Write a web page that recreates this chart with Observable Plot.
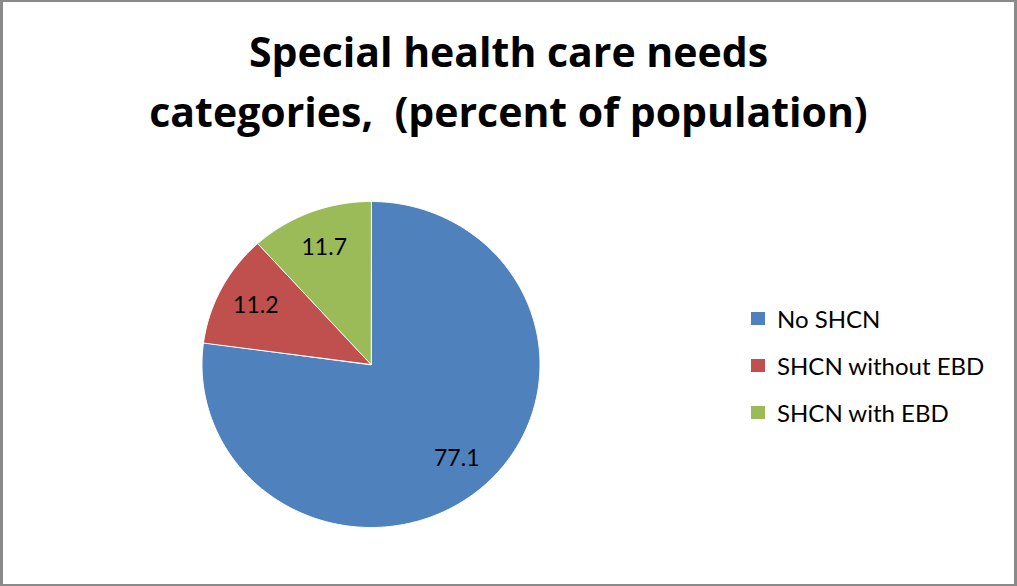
<!DOCTYPE html>
<html><head><meta charset="utf-8">
<script src="https://cdn.jsdelivr.net/npm/d3@7"></script>
<script src="https://cdn.jsdelivr.net/npm/@observablehq/plot@0.6"></script>
<style>
body{margin:0;background:#fff;}
#chart{position:relative;width:1017px;height:586px;overflow:hidden;font-family:Lato,"Open Sans",sans-serif;background:#fff;}
#frame{position:absolute;left:0;top:0;width:1017px;height:586px;box-sizing:border-box;border:2px solid #8a8a8a;border-left-width:3px;border-right-width:3px;pointer-events:none;}
#title{position:absolute;left:0;top:21px;width:1017px;text-align:center;font-family:"Open Sans",Lato,sans-serif;font-weight:700;font-size:41px;line-height:60px;color:#000;white-space:pre;}
#plot{position:absolute;left:0;top:0;}
.leg{position:absolute;left:751px;height:47px;display:flex;align-items:center;font-size:24px;color:#000;white-space:nowrap;}
.sw{width:14px;height:13px;margin-right:12px;flex:none;}
</style></head><body>
<div id="chart">
  <div id="plot"></div>
  <div id="title"></div>
  <div id="legend"></div>
  <div id="frame"></div>
</div>
<script>
const categories = ["No SHCN", "SHCN without EBD", "SHCN with EBD"];
const values = [77.1, 11.2, 11.7];
const valueLabels = ["77.1", "11.2", "11.7"];
const colors = ["#4F81BD", "#C0504D", "#9BBB59"];
const titleLines = ["Special health care needs", "categories,  (percent of population)"];

const data = categories.map((c, i) => ({name: c, value: values[i], label: valueLabels[i]}));
const arcs = d3.pie().sort(null).value(d => d.value)(data);

// polygon outline of each slice (unit circle, angle 0 at 12 o'clock, clockwise)
const pts = [];
for (const a of arcs) {
  pts.push({name: a.data.name, x: 0, y: 0});
  const n = Math.max(2, Math.ceil((a.endAngle - a.startAngle) / 0.01));
  for (let k = 0; k <= n; k++) {
    const t = a.startAngle + (a.endAngle - a.startAngle) * k / n;
    pts.push({name: a.data.name, x: Math.sin(t), y: Math.cos(t)});
  }
}
const labelPts = arcs.map(a => {
  const m = (a.startAngle + a.endAngle) / 2;
  return {label: a.data.label, x: 0.77 * Math.sin(m), y: 0.77 * Math.cos(m)};
});

const chart = Plot.plot({
  width: 1017,
  height: 586,
  marginLeft: 201.5,
  marginRight: 1017 - 539.5,
  marginTop: 201,
  marginBottom: 586 - 527,
  x: {domain: [-1, 1], axis: null},
  y: {domain: [-1, 1], axis: null},
  color: {domain: categories, range: colors},
  style: {background: "transparent", fontFamily: "Lato, 'Open Sans', sans-serif"},
  marks: [
    Plot.line(pts, {x: "x", y: "y", z: "name", fill: "name", stroke: "#fff", strokeWidth: 1, curve: "linear-closed"}),
    Plot.text(labelPts, {x: "x", y: "y", text: "label", fontSize: 23, fill: "#000"})
  ]
});
document.getElementById("plot").appendChild(chart);

const t = document.getElementById("title");
titleLines.forEach(l => { const d = document.createElement("div"); d.textContent = l; t.appendChild(d); });

const leg = document.getElementById("legend");
categories.forEach((c, i) => {
  const row = document.createElement("div");
  row.className = "leg";
  row.style.top = (294.5 + i * 47) + "px";
  const sw = document.createElement("span");
  sw.className = "sw";
  sw.style.background = colors[i];
  const tx = document.createElement("span");
  tx.textContent = c;
  row.appendChild(sw); row.appendChild(tx);
  leg.appendChild(row);
});
</script>
</body></html>
